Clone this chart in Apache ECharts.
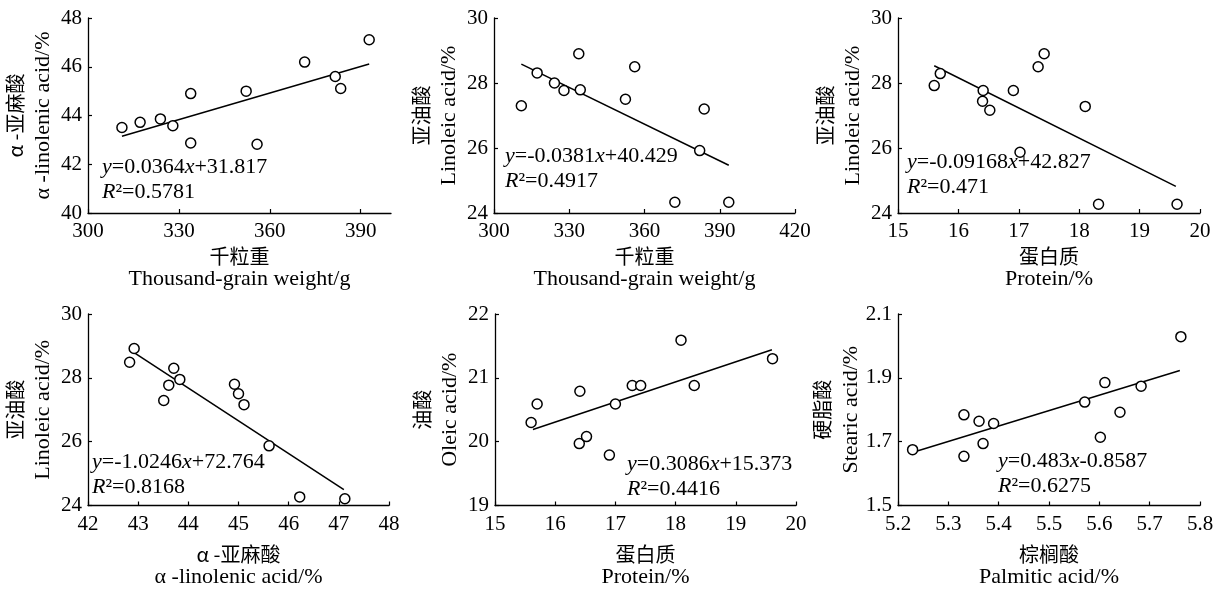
<!doctype html>
<meta charset="utf-8">
<style>
  html, body {
    margin: 0;
    height: 100%;
    background: #fff;
  }

  #chart {
    width: 1226px;
    height: 589px;
  }
</style>
<script src="https://cdn.jsdelivr.net/npm/echarts@6/dist/echarts.min.js"></script>

<div id="chart"></div>

<script>
  // values (12 samples per panel)
  const weightA = [311.2, 317.2, 323.9, 328.0, 333.9, 333.9, 352.2, 355.8, 371.5, 381.6, 383.4, 392.8]
  const alaA = [43.51, 43.72, 43.86, 43.58, 44.90, 42.87, 45.00, 42.82, 46.19, 45.60, 45.11, 47.11]
  const fitA = [[311.2, 43.15], [392.8, 46.11]]

  const weightB = [310.9, 317.2, 324.1, 327.9, 333.8, 334.4, 352.4, 356.1, 372.1, 382.0, 383.8, 393.6]
  const linoB = [27.30, 28.31, 28.00, 27.77, 28.90, 27.79, 27.50, 28.50, 24.33, 25.92, 27.20, 24.33]
  const fitB = [[310.9, 28.58], [393.6, 25.47]]

  const proteinC = [15.60, 15.70, 16.41, 16.40, 16.52, 16.91, 17.32, 17.42, 17.02, 18.10, 18.32, 19.62]
  const linoC = [27.92, 28.29, 27.77, 27.44, 27.16, 27.77, 28.50, 28.90, 25.87, 27.28, 24.27, 24.27]
  const fitC = [[15.6, 28.53], [19.6, 24.82]]

  const alaD = [42.83, 42.92, 43.71, 43.83, 43.61, 43.51, 44.92, 45.00, 45.11, 45.61, 46.22, 47.12]
  const linoD = [28.49, 28.92, 28.30, 27.95, 27.77, 27.29, 27.80, 27.50, 27.16, 25.87, 24.27, 24.21]
  const fitD = [[42.88, 28.83], [47.1, 24.5]]

  const proteinE = [15.60, 15.70, 16.41, 16.40, 16.52, 16.90, 17.00, 17.28, 17.42, 18.09, 18.31, 19.61]
  const oleicE = [20.30, 20.59, 20.79, 19.97, 20.08, 19.79, 20.59, 20.88, 20.88, 21.59, 20.88, 21.30]
  const fitE = [[15.63, 20.19], [19.6, 21.44]]

  const palmF = [5.229, 5.331, 5.331, 5.361, 5.369, 5.390, 5.571, 5.602, 5.611, 5.641, 5.683, 5.762]
  const stearF = [1.675, 1.784, 1.654, 1.764, 1.694, 1.757, 1.824, 1.714, 1.885, 1.792, 1.874, 2.029]
  const fitF = [[5.23, 1.667], [5.76, 1.923]]

  const panels = [
    { xs: weightA, ys: alaA, fit: fitA, x: [300, 400, 30], y: [40, 48, 2], xDec: 0, yDec: 0,
      xName: '千粒重', xEn: 'Thousand-grain weight/g', yName: 'α -亚麻酸', yEn: 'α -linolenic acid/%',
      eq: ['{i|y}=0.0364{i|x}+31.817', '{i|R}²=0.5781'] },
    { xs: weightB, ys: linoB, fit: fitB, x: [300, 420, 30], y: [24, 30, 2], xDec: 0, yDec: 0,
      xName: '千粒重', xEn: 'Thousand-grain weight/g', yName: '亚油酸', yEn: 'Linoleic acid/%',
      eq: ['{i|y}=-0.0381{i|x}+40.429', '{i|R}²=0.4917'] },
    { xs: proteinC, ys: linoC, fit: fitC, x: [15, 20, 1], y: [24, 30, 2], xDec: 0, yDec: 0,
      xName: '蛋白质', xEn: 'Protein/%', yName: '亚油酸', yEn: 'Linoleic acid/%',
      eq: ['{i|y}=-0.09168{i|x}+42.827', '{i|R}²=0.471'] },
    { xs: alaD, ys: linoD, fit: fitD, x: [42, 48, 1], y: [24, 30, 2], xDec: 0, yDec: 0,
      xName: 'α -亚麻酸', xEn: 'α -linolenic acid/%', yName: '亚油酸', yEn: 'Linoleic acid/%',
      eq: ['{i|y}=-1.0246{i|x}+72.764', '{i|R}²=0.8168'] },
    { xs: proteinE, ys: oleicE, fit: fitE, x: [15, 20, 1], y: [19, 22, 1], xDec: 0, yDec: 0,
      xName: '蛋白质', xEn: 'Protein/%', yName: '油酸', yEn: 'Oleic acid/%',
      eq: ['{i|y}=0.3086{i|x}+15.373', '{i|R}²=0.4416'] },
    { xs: palmF, ys: stearF, fit: fitF, x: [5.2, 5.8, 0.1], y: [1.5, 2.1, 0.2], xDec: 1, yDec: 1,
      xName: '棕榈酸', xEn: 'Palmitic acid/%', yName: '硬脂酸', yEn: 'Stearic acid/%',
      eq: ['{i|y}=0.483{i|x}-0.8587', '{i|R}²=0.6275'] },
  ]

  // layout
  const grids = [
    { left: 88, top: 18, width: 303, height: 195 },
    { left: 494, top: 18, width: 301, height: 195 },
    { left: 898, top: 18, width: 302, height: 195 },
    { left: 88, top: 314, width: 301, height: 194 },
    { left: 495, top: 314, width: 301, height: 194 },
    { left: 898, top: 314, width: 302, height: 194 },
  ]
  const eqPos = [[102, 155], [505, 144], [907, 150], [92, 450], [627, 452], [998, 449]]
  const xGap = [32, 32, 32, 37, 37, 37]

  const SERIF = '"Liberation Serif", "Times New Roman", serif'
  const CJK = '"Noto Sans CJK SC", sans-serif'

  const axisBase = {
    axisLine: { lineStyle: { color: '#000', width: 1.3 } },
    axisTick: { inside: true, length: 4, lineStyle: { color: '#000', width: 1.2 } },
    splitLine: { show: false },
  }

  function nameRich(lineHeight) {
    return {
      cn: { fontFamily: CJK, fontSize: 20, color: '#000', lineHeight: lineHeight },
      en: { fontFamily: SERIF, fontSize: 22, color: '#000', lineHeight: lineHeight },
    }
  }

  function isWhole(a) {
    return Math.abs(a - Math.round(a)) < 1e-6
  }

  let chart = echarts.init(document.getElementById('chart'))

  chart.setOption({
    animation: false,
    grid: grids,
    xAxis: panels.map((p, i) => Object.assign({}, axisBase, {
      type: 'value',
      gridIndex: i,
      min: p.x[0],
      max: p.x[1],
      interval: p.x[2],
      axisLabel: {
        color: '#000',
        fontFamily: SERIF,
        fontSize: 21,
        margin: 8,
        showMaxLabel: isWhole((p.x[1] - p.x[0]) / p.x[2]),
        formatter: v => v.toFixed(p.xDec),
      },
      name: '{cn|' + p.xName + '}\n{en|' + p.xEn + '}',
      nameLocation: 'middle',
      nameGap: xGap[i],
      nameTextStyle: { rich: nameRich(23), verticalAlign: 'top' },
    })),
    yAxis: panels.map((p, i) => Object.assign({}, axisBase, {
      type: 'value',
      gridIndex: i,
      min: p.y[0],
      max: p.y[1],
      interval: p.y[2],
      axisLabel: {
        color: '#000',
        fontFamily: SERIF,
        fontSize: 21,
        margin: 6,
        formatter: v => v.toFixed(p.yDec),
      },
      name: '{cn|' + p.yName + '}\n{en|' + p.yEn + '}',
      nameLocation: 'middle',
      nameGap: 31,
      nameTextStyle: { rich: nameRich(28) },
    })),
    series: panels.flatMap((p, i) => [
      {
        type: 'scatter',
        xAxisIndex: i,
        yAxisIndex: i,
        data: p.xs.map((x, k) => [x, p.ys[k]]),
        symbol: 'circle',
        symbolSize: 10,
        itemStyle: { color: '#fff', borderColor: '#000', borderWidth: 1.5, opacity: 1 },
        z: 3,
      },
      {
        type: 'line',
        xAxisIndex: i,
        yAxisIndex: i,
        data: p.fit,
        symbol: 'none',
        lineStyle: { color: '#000', width: 1.5 },
        z: 2,
      },
    ]),
    graphic: panels.map((p, i) => ({
      type: 'text',
      x: eqPos[i][0],
      y: eqPos[i][1],
      style: {
        text: p.eq.join('\n'),
        fontFamily: SERIF,
        fontSize: 22,
        lineHeight: 25,
        fill: '#000',
        rich: {
          i: { fontStyle: 'italic', fontFamily: SERIF, fontSize: 22, lineHeight: 25 },
        },
      },
    })),
  })
</script>
